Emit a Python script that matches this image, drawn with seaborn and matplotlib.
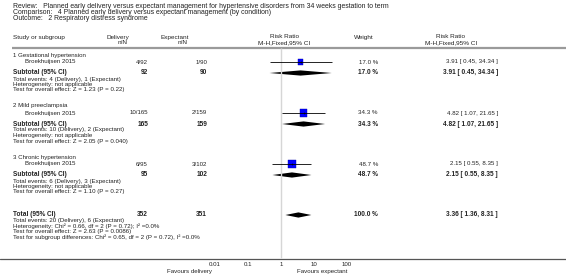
import numpy as np
import pandas as pd
import matplotlib
matplotlib.use("Agg")
import matplotlib.pyplot as plt
import seaborn as sns

sns.set_theme(style="white")
plt.rcParams['font.family'] = ['Liberation Sans', 'DejaVu Sans']

# ---------------- data ----------------
groups = ["1 Gestational hypertension", "2 Mild preeclampsia", "3 Chronic hypertension"]
studies = ["Broekhuijsen 2015", "Broekhuijsen 2015", "Broekhuijsen 2015"]
del_events = [4, 10, 6]
del_total = [92, 165, 95]
exp_events = [1, 2, 3]
exp_total = [90, 159, 102]
weights = [17.0, 34.3, 48.7]
rr = [3.91, 4.82, 2.15]
rr_lo = [0.45, 1.07, 0.55]
rr_hi = [34.34, 21.65, 8.35]
overall_tests = ["Z = 1.23 (P = 0.22)", "Z = 2.05 (P = 0.040)", "Z = 1.10 (P = 0.27)"]
total_rr, total_lo, total_hi = 3.36, 1.36, 8.31
total_lines = ["Heterogeneity: Chi\u00b2 = 0.66, df = 2 (P = 0.72); I\u00b2 =0.0%",
               "Test for overall effect: Z = 2.63 (P = 0.0086)",
               "Test for subgroup differences: Chi\u00b2 = 0.65, df = 2 (P = 0.72), I\u00b2 =0.0%"]
tick_vals = [0.01, 0.1, 1, 10, 100]
tick_labels = ["0.01", "0.1", "1", "10", "100"]
titles = ["Review:   Planned early delivery versus expectant management for hypertensive disorders from 34 weeks gestation to term",
          "Comparison:   4 Planned early delivery versus expectant management (by condition)",
          "Outcome:   2 Respiratory distress syndrome"]

# ---------------- layout ----------------
W, H = 566, 276
fig = plt.figure(figsize=(W / 100, H / 100), dpi=100)
tax = fig.add_axes([0, 0, 1, 1])
tax.set_xlim(0, W)
tax.set_ylim(H, 0)
tax.axis("off")

# forest axes: 0.001..1000 mapped to pixels 182..380
fx0, fx1 = 182, 380
fax = fig.add_axes([fx0 / W, 0, (fx1 - fx0) / W, 1])
fax.set_xscale("log")
fax.set_xlim(0.001, 1000)
fax.set_ylim(H, 0)
fax.axis("off")
fax.patch.set_alpha(0)

TC = "#222222"
FS = 4.4
FSB = 4.7
FSH = 4.6
FST = 4.95

def T(x, y, s, ha="left", bold=False, size=None, color=TC):
    tax.text(x, y, s, ha=ha, va="center", fontsize=size or (FSB if bold else FS),
             fontweight="bold" if bold else "normal", color=color)

for i, t in enumerate(titles):
    T(13, 7 + i * 6, t, size=FST)

# headers
T(13, 37, "Study or subgroup", size=FSH)
T(129, 37, "Delivery", ha="right", size=FSH)
T(128, 43, "n/N", ha="right", size=FSH)
T(189, 37, "Expectant", ha="right", size=FSH)
T(188, 43, "n/N", ha="right", size=FSH)
T(284, 37, "Risk Ratio", ha="center", size=FSH)
T(284, 43, "M-H,Fixed,95% CI", ha="center", size=FSH)
T(364, 37, "Weight", ha="center", size=FSH)
T(451, 37, "Risk Ratio", ha="center", size=FSH)
T(451, 43, "M-H,Fixed,95% CI", ha="center", size=FSH)
tax.plot([12, W], [47.5, 47.5], color="#9a9a9a", lw=1.6, solid_capstyle="butt")

# vertical line at RR=1
fax.vlines(1, 48, 258, color="#d6d6d6", lw=1.0)

group_y0 = [55, 106, 157]
study_y = []
for g in range(3):
    y0 = group_y0[g]
    ys = y0 + 7
    study_y.append(ys)
    T(13, y0, groups[g])
    T(25, ys, studies[g])
    T(148, ys, f"{del_events[g]}/{del_total[g]}", ha="right")
    T(207, ys, f"{exp_events[g]}/{exp_total[g]}", ha="right")
    T(378, ys, f"{weights[g]:.1f} %", ha="right")
    T(498, ys, f"{rr[g]:.2f} [ {rr_lo[g]:.2f}, {rr_hi[g]:.2f} ]", ha="right")
    fax.hlines(ys, rr_lo[g], rr_hi[g], color="black", lw=0.6)
    # subtotal
    yst = y0 + 18
    T(13, yst, "Subtotal (95% CI)", bold=True)
    T(148, yst, f"{del_total[g]}", ha="right", bold=True)
    T(207, yst, f"{exp_total[g]}", ha="right", bold=True)
    T(378, yst, f"{weights[g]:.1f} %", ha="right", bold=True)
    T(498, yst, f"{rr[g]:.2f} [ {rr_lo[g]:.2f}, {rr_hi[g]:.2f} ]", ha="right", bold=True)
    fax.fill([rr_lo[g], rr[g], rr_hi[g], rr[g]], [yst, yst - 2.6, yst, yst + 2.6],
             color="black", lw=0)
    T(13, yst + 6, f"Total events: {del_events[g]} (Delivery), {exp_events[g]} (Expectant)")
    T(13, yst + 11.5, "Heterogeneity: not applicable")
    T(13, yst + 17, "Test for overall effect: " + overall_tests[g])

df = pd.DataFrame({"rr": rr, "y": study_y, "w": weights})
sns.scatterplot(data=df, x="rr", y="y", size="w", sizes=(14, 36), marker="s",
                color="#0000ff", edgecolor="#0000aa", linewidth=0.3, legend=False, ax=fax)
fax.set_xlim(0.001, 1000)
fax.set_ylim(H, 0)
fax.axis("off")
for g in range(3):
    fax.plot([rr[g]], [study_y[g]], marker="+", color="black", ms=2, mew=0.4)

# total
yt = 215
T(13, yt, "Total (95% CI)", bold=True)
T(148, yt, f"{sum(del_total)}", ha="right", bold=True)
T(207, yt, f"{sum(exp_total)}", ha="right", bold=True)
T(378, yt, f"{sum(weights):.1f} %", ha="right", bold=True)
T(498, yt, f"{total_rr:.2f} [ {total_lo:.2f}, {total_hi:.2f} ]", ha="right", bold=True)
fax.fill([total_lo, total_rr, total_hi, total_rr], [yt, yt - 2.6, yt, yt + 2.6],
         color="black", lw=0)
T(13, yt + 5.5, f"Total events: {sum(del_events)} (Delivery), {sum(exp_events)} (Expectant)")
for i, s in enumerate(total_lines):
    T(13, yt + 11 + i * 5.5, s)

# bottom axis line
tax.plot([0, W], [259, 259], color="#555555", lw=0.9)
for v, lab in zip(tick_vals, tick_labels):
    fax.text(v, 264, lab, ha="center", va="center", fontsize=FS, color=TC)
T(212, 271, "Favours delivery", ha="right")
T(297, 271, "Favours expectant", ha="left")

fig.savefig("out.png", dpi=100)
